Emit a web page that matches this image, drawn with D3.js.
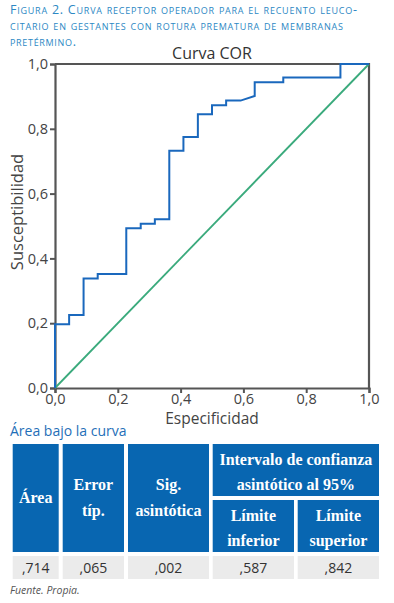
<!DOCTYPE html>
<html>
<head>
<meta charset="utf-8">
<script src="https://cdn.jsdelivr.net/npm/d3@7"></script>
<style>
  body { margin: 0; background: #fff; }
  text { font-family: "Open Sans", "Noto Sans", sans-serif; }
  .title { fill: #2c88c4; font-variant: small-caps; font-size: 12.5px; }
  .tick text { font-size: 14.5px; fill: #444; }
  .hdr { fill: #fff; font-family: "Liberation Serif", serif; font-weight: bold; font-size: 16px; }
</style>
</head>
<body>
<div id="chart-area"></div>
<script>
// ROC curve points (1 - especificidad, sensibilidad)
const fpr = [0, 0, 0.045, 0.045, 0.091, 0.091, 0.136, 0.136, 0.227, 0.227, 0.273, 0.273, 0.318, 0.318,
             0.364, 0.364, 0.409, 0.409, 0.455, 0.455, 0.500, 0.500, 0.545, 0.545, 0.591, 0.636,
             0.636, 0.727, 0.727, 0.909, 0.909, 1];
const tpr = [0, 0.197, 0.197, 0.225, 0.225, 0.338, 0.338, 0.352, 0.352, 0.493, 0.493, 0.507, 0.507, 0.521,
             0.521, 0.732, 0.732, 0.775, 0.775, 0.845, 0.845, 0.873, 0.873, 0.887, 0.887, 0.901,
             0.944, 0.944, 0.958, 0.958, 1, 1];
const refLine = [[0, 0], [1, 1]];
const ticks = [0, 0.2, 0.4, 0.6, 0.8, 1.0];

const titleLines = [
    "Figura 2. Curva receptor operador para el recuento leuco-",
    "citario en gestantes con rotura prematura de membranas",
    "pretérmino."
];
const colHeaders = [["Área"], ["Error", "típ."], ["Sig.", "asintótica"]];
const groupHeader = ["Intervalo de confianza", "asintótico al 95%"];
const subHeaders = [["Límite", "inferior"], ["Límite", "superior"]];
const values = [",714", ",065", ",002", ",587", ",842"];

const W = 394, H = 603;
const svg = d3.select("#chart-area").append("svg")
    .attr("width", W).attr("height", H);

// title
const titleWidths = [347, 333, 66];
titleLines.forEach((t, i) => {
    svg.append("text").attr("class", "title")
        .attr("x", 10).attr("y", 14 + i * 16)
        .attr("textLength", titleWidths[i]).attr("lengthAdjust", "spacing")
        .text(t);
});

svg.append("text").attr("x", 212).attr("y", 59)
    .attr("text-anchor", "middle").attr("font-size", 16).attr("fill", "#333")
    .text("Curva COR");

// scales
const x = d3.scaleLinear().domain([0, 1]).range([55, 369]);
const y = d3.scaleLinear().domain([0, 1]).range([388, 64]);
const fmt = d => d3.format(".1f")(d).replace(".", ",");

const yAxis = svg.append("g")
    .attr("transform", "translate(55,0)")
    .call(d3.axisLeft(y).tickValues(ticks).tickFormat(fmt).tickSize(5).tickPadding(2));
const xAxis = svg.append("g")
    .attr("transform", "translate(0,388)")
    .call(d3.axisBottom(x).tickValues(ticks).tickFormat(fmt).tickSize(5).tickPadding(1));
[yAxis, xAxis].forEach(a => {
    a.select(".domain").attr("stroke", "#555").attr("stroke-width", 2.2);
    a.selectAll(".tick line").attr("stroke", "#555").attr("stroke-width", 2);
});

// top and right frame
svg.append("path")
    .attr("d", `M${x(0)},${y(1)}H${x(1)}V${y(0)}`)
    .attr("fill", "none").attr("stroke", "#555").attr("stroke-width", 2.2);

// reference diagonal
svg.append("path")
    .datum(refLine)
    .attr("d", d3.line().x(d => x(d[0])).y(d => y(d[1])))
    .attr("fill", "none").attr("stroke", "#3aaa7c").attr("stroke-width", 1.8);

// ROC curve
const rocPts = fpr.map((f, i) => [f, tpr[i]]);
svg.append("path")
    .datum(rocPts)
    .attr("d", d3.line().x(d => x(d[0])).y(d => y(d[1])))
    .attr("fill", "none").attr("stroke", "#1a68bd").attr("stroke-width", 2);

// axis labels
svg.append("text").attr("x", 212).attr("y", 424)
    .attr("text-anchor", "middle").attr("font-size", 15.5).attr("fill", "#444")
    .text("Especificidad");
svg.append("text").attr("transform", "translate(23,212) rotate(-90)")
    .attr("text-anchor", "middle").attr("font-size", 16.5).attr("fill", "#444")
    .text("Susceptibilidad");

// table
svg.append("text").attr("x", 10).attr("y", 436)
    .attr("font-size", 14).attr("fill", "#1f6fb8")
    .text("Área bajo la curva");

const blue = "#0866b1", grey = "#ebebeb";
const cols = [[12.7, 58.7], [62.7, 124], [128, 209], [212.7, 294], [297.7, 379]];
const hTop = 444, hBot = 552, gBot = 496, sTop = 500, vTop = 556, vBot = 579;

cols.forEach((c, i) => {
    const cx = (c[0] + c[1]) / 2;
    if (i < 3) {
        svg.append("rect").attr("x", c[0]).attr("y", hTop)
            .attr("width", c[1] - c[0]).attr("height", hBot - hTop).attr("fill", blue);
        const lines = colHeaders[i];
        const mid = (hTop + hBot) / 2;
        lines.forEach((l, j) => {
            svg.append("text").attr("class", "hdr")
                .attr("x", cx).attr("y", mid + 5 + (j - (lines.length - 1) / 2) * 26)
                .attr("text-anchor", "middle").text(l);
        });
    } else {
        svg.append("rect").attr("x", c[0]).attr("y", sTop)
            .attr("width", c[1] - c[0]).attr("height", hBot - sTop).attr("fill", blue);
        subHeaders[i - 3].forEach((l, j) => {
            svg.append("text").attr("class", "hdr")
                .attr("x", cx).attr("y", 521 + j * 25)
                .attr("text-anchor", "middle").text(l);
        });
    }
    svg.append("rect").attr("x", c[0]).attr("y", vTop)
        .attr("width", c[1] - c[0]).attr("height", vBot - vTop).attr("fill", grey);
    svg.append("text").attr("x", cx).attr("y", 573)
        .attr("text-anchor", "middle").attr("font-size", 14).attr("fill", "#333")
        .text(values[i]);
});

svg.append("rect").attr("x", cols[3][0]).attr("y", hTop)
    .attr("width", cols[4][1] - cols[3][0]).attr("height", gBot - hTop).attr("fill", blue);
groupHeader.forEach((l, j) => {
    svg.append("text").attr("class", "hdr")
        .attr("x", (cols[3][0] + cols[4][1]) / 2).attr("y", 465 + j * 25)
        .attr("text-anchor", "middle").text(l);
});

svg.append("text").attr("x", 10).attr("y", 594)
    .attr("font-size", 10.5).attr("font-style", "italic").attr("fill", "#555")
    .text("Fuente. Propia.");
</script>
</body>
</html>
